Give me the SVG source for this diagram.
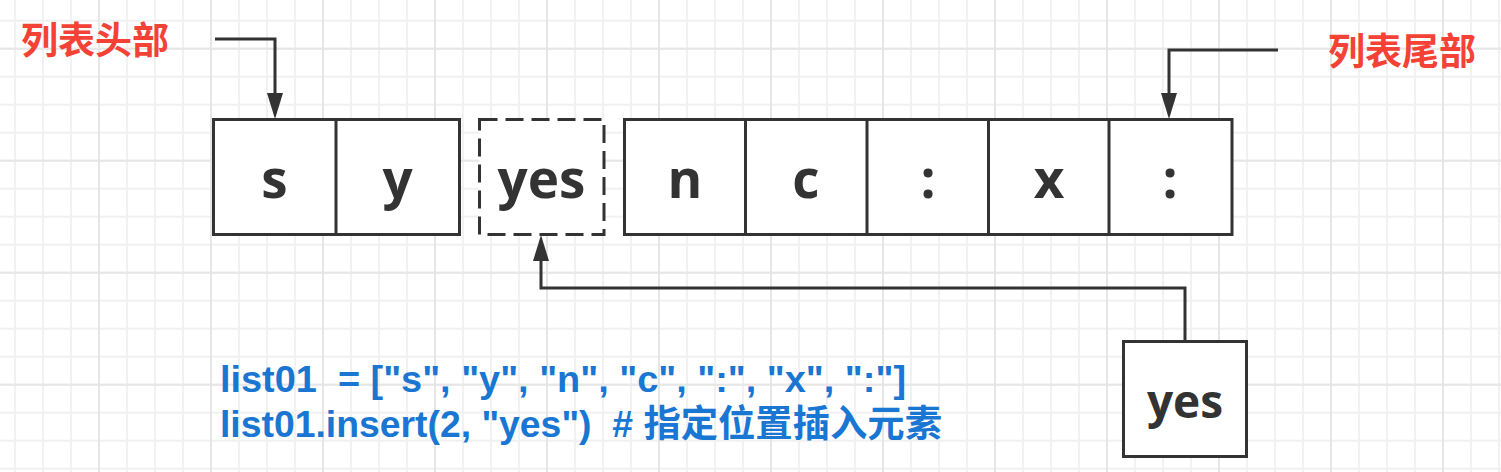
<svg xmlns="http://www.w3.org/2000/svg" width="1501" height="472" viewBox="0 0 1501 472">
<style>
.box{fill:#ffffff;stroke:#333333;stroke-width:3;}
.dash{fill:#ffffff;stroke:#333333;stroke-width:3;stroke-dasharray:18 8;}
.div{stroke:#333333;stroke-width:3;}
.cell{font-family:"Open Sans","Noto Sans",sans-serif;font-weight:bold;font-size:53px;fill:#333333;text-anchor:middle;}
.lbl{font-family:"Noto Sans CJK SC",sans-serif;font-weight:bold;font-size:37px;fill:#f44336;}
.code{font-family:"Liberation Sans","Noto Sans CJK SC",sans-serif;font-weight:bold;font-size:37px;fill:#1976d2;}
.conn{fill:none;stroke:#333333;stroke-width:3;marker-end:url(#arr);}
</style>
<defs>
<pattern id="gmin" patternUnits="userSpaceOnUse" x="1" y="6.7" width="28" height="28">
<path d="M14 0V28M0 14H28" stroke="#f1f1f1" stroke-width="2" fill="none"/>
</pattern>
<pattern id="gmaj" patternUnits="userSpaceOnUse" x="43" y="-7.3" width="112" height="112">
<path d="M56 0V112M0 56H112" stroke="#e6e6e6" stroke-width="2" fill="none"/>
</pattern>
<marker id="arr" markerUnits="userSpaceOnUse" markerWidth="27" markerHeight="17" viewBox="0 -8.5 27 17" refX="0" refY="0" orient="auto">
<path d="M0 -8L26 0L0 8Z" fill="#333333"/>
</marker>
</defs>
<rect width="1501" height="472" fill="#ffffff"/>
<rect width="1501" height="472" fill="url(#gmin)"/>
<rect width="1501" height="472" fill="url(#gmaj)"/>

<g id="connectors">
<path class="conn" d="M215 39H275V93"/>
<path class="conn" d="M1278 50H1169V93"/>
<path class="conn" d="M1185 341V288H541V261"/>
</g>

<g id="node-head-label"><text class="lbl" x="21" y="54">列表头部</text></g>
<g id="node-tail-label"><text class="lbl" x="1328" y="65">列表尾部</text></g>

<g id="node-list-left">
<rect class="box" x="213.5" y="119.5" width="246" height="115"/>
<line class="div" x1="336" y1="119.5" x2="336" y2="234.5"/>
<text class="cell" x="274.5" y="198">s</text>
<text class="cell" x="397.5" y="198">y</text>
</g>

<g id="node-inserted">
<rect class="dash" x="479.5" y="119.5" width="124.5" height="115"/>
<text class="cell" x="541.5" y="198">yes</text>
</g>

<g id="node-list-right">
<rect class="box" x="624.5" y="119.5" width="607.5" height="115"/>
<line class="div" x1="745.5" y1="119.5" x2="745.5" y2="234.5"/>
<line class="div" x1="867" y1="119.5" x2="867" y2="234.5"/>
<line class="div" x1="988.5" y1="119.5" x2="988.5" y2="234.5"/>
<line class="div" x1="1109" y1="119.5" x2="1109" y2="234.5"/>
<text class="cell" x="685" y="198">n</text>
<text class="cell" x="806" y="198">c</text>
<text class="cell" x="928" y="198">:</text>
<text class="cell" x="1049" y="198">x</text>
<text class="cell" x="1170" y="198">:</text>
</g>

<g id="node-new-yes">
<rect class="box" x="1123.5" y="341.5" width="123" height="115"/>
<text class="cell" x="1185" y="418" style="font-size:46px">yes</text>
</g>

<g id="node-code">
<text class="code" xml:space="preserve"><tspan x="220" y="392" textLength="686" lengthAdjust="spacingAndGlyphs">list01  = ["s", "y", "n", "c", ":", "x", ":"]</tspan><tspan x="220" y="437" textLength="722" lengthAdjust="spacingAndGlyphs">list01.insert(2, "yes")  # 指定位置插入元素</tspan></text>
</g>
</svg>
